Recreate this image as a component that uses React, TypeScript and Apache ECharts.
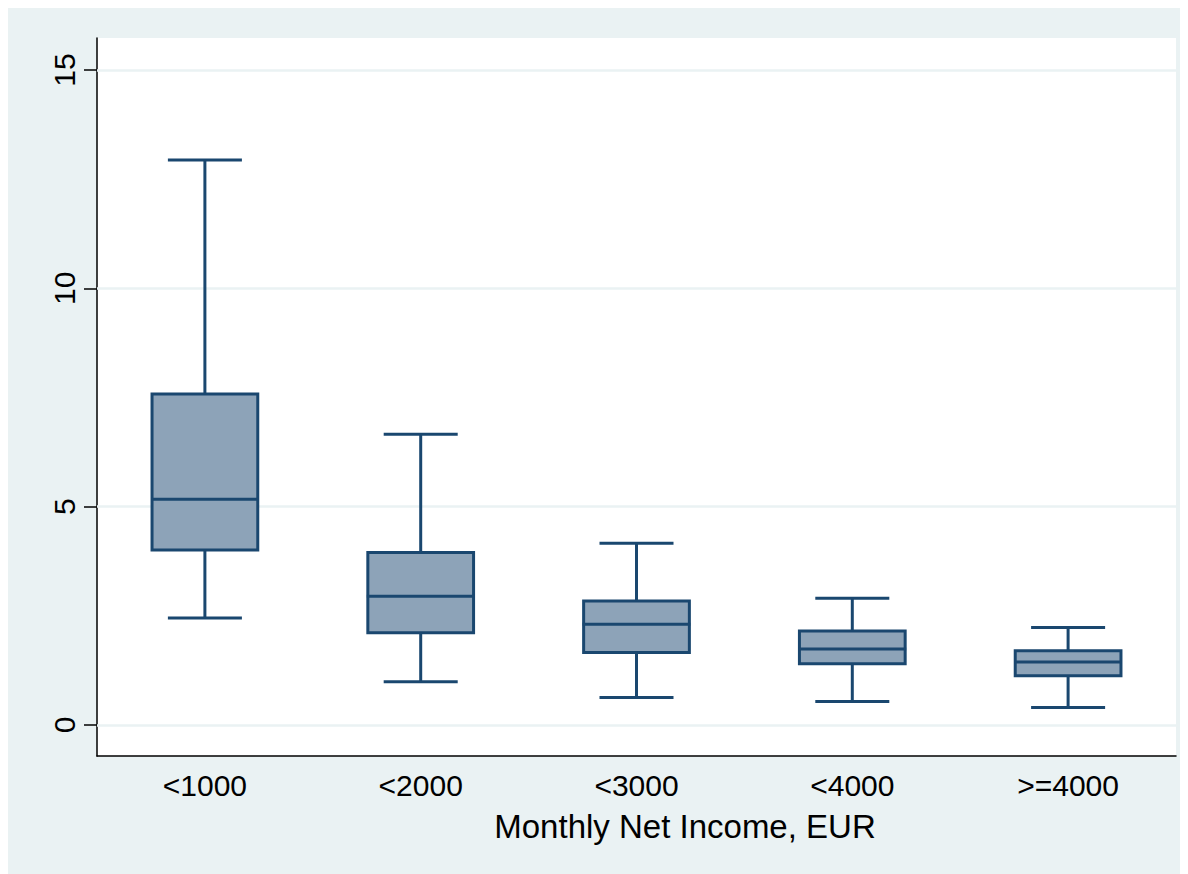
import React, { useEffect, useRef } from "react";
import * as echarts from "echarts";

const categories = ["<1000", "<2000", "<3000", "<4000", ">=4000"];
const lowerWhisker = [2.45, 0.99, 0.63, 0.54, 0.4];
const q1 = [4.01, 2.11, 1.66, 1.4, 1.13];
const median = [5.17, 2.95, 2.31, 1.74, 1.44];
const q3 = [7.58, 3.95, 2.84, 2.15, 1.7];
const upperWhisker = [12.94, 6.66, 4.16, 2.9, 2.23];
const yTicks = [0, 5, 10, 15];
const xTitle = "Monthly Net Income, EUR";

const FONT = "'Liberation Sans', Arial, Helvetica, sans-serif";
const NAVY = "#1A476F";
const FILL = "#8DA3B8";
const BG = "#EAF2F3";

export default function App() {
  const ref = useRef<HTMLDivElement>(null);
  useEffect(() => {
    document.documentElement.style.overflow = "hidden";
    document.body.style.overflow = "hidden";
    const chart = echarts.init(ref.current!, undefined, { renderer: "svg" });
    const data = categories.map((_, i) => [i, lowerWhisker[i], q1[i], median[i], q3[i], upperWhisker[i]]);
    chart.setOption({
      animation: false,
      backgroundColor: BG,
      grid: {
        left: 89,
        right: 32,
        top: 30,
        bottom: 132,
        show: true,
        backgroundColor: "#ffffff",
        borderWidth: 0,
      },
      xAxis: {
        type: "category",
        data: categories,
        boundaryGap: true,
        axisLine: { show: true, onZero: false, lineStyle: { color: "#000", width: 1.5 } },
        axisTick: { show: false },
        axisLabel: { fontSize: 30, color: "#000", fontFamily: FONT, margin: 14 },
        splitLine: { show: false },
      },
      yAxis: {
        type: "value",
        min: -0.71,
        max: 15.733,
        axisLine: { show: true, onZero: false, lineStyle: { color: "#000", width: 1.5 } },
        axisTick: { show: true, length: 13, customValues: yTicks, lineStyle: { color: "#000", width: 1.5 } },
        axisLabel: {
          show: true,
          customValues: yTicks,
          rotate: 90,
          fontSize: 30,
          color: "#000",
          fontFamily: FONT,
          margin: 18,
        },
        splitLine: { show: false },
      },
      graphic: [
        {
          type: "text",
          x: 677,
          y: 818.6,
          style: {
            text: xTitle,
            fontSize: 33,
            fontFamily: FONT,
            fill: "#000",
            textAlign: "center",
            textVerticalAlign: "middle",
            verticalAlign: "middle",
          },
        },
      ],
      series: [
        {
          type: "custom",
          data,
          z: 3,
          encode: { x: 0, y: [1, 2, 3, 4, 5] },
          renderItem: (params: any, api: any) => {
            const i = api.value(0);
            const pLo = api.coord([i, api.value(1)]);
            const pQ1 = api.coord([i, api.value(2)]);
            const pMed = api.coord([i, api.value(3)]);
            const pQ3 = api.coord([i, api.value(4)]);
            const pHi = api.coord([i, api.value(5)]);
            const band = api.size([1, 0])[0];
            const bw = band * 0.49;
            const cw = band * 0.343;
            const x = pLo[0];
            const ls = { stroke: NAVY, lineWidth: 3, fill: null };
            return {
              type: "group",
              children: [
                { type: "line", shape: { x1: x, y1: pQ3[1], x2: x, y2: pHi[1] }, style: ls },
                { type: "line", shape: { x1: x, y1: pQ1[1], x2: x, y2: pLo[1] }, style: ls },
                { type: "line", shape: { x1: x - cw / 2, y1: pHi[1], x2: x + cw / 2, y2: pHi[1] }, style: ls },
                { type: "line", shape: { x1: x - cw / 2, y1: pLo[1], x2: x + cw / 2, y2: pLo[1] }, style: ls },
                {
                  type: "rect",
                  shape: { x: x - bw / 2, y: pQ3[1], width: bw, height: pQ1[1] - pQ3[1] },
                  style: { fill: FILL, stroke: NAVY, lineWidth: 3 },
                },
                { type: "line", shape: { x1: x - bw / 2 - 1, y1: pMed[1], x2: x + bw / 2 + 1, y2: pMed[1] }, style: ls },
              ],
            };
          },
          markLine: {
            silent: true,
            z: 1,
            symbol: ["none", "none"],
            label: { show: false },
            lineStyle: { color: BG, width: 2.5, type: "solid" },
            data: yTicks.map((v) => ({ yAxis: v })),
          },
        },
      ],
    });
    return () => chart.dispose();
  }, []);
  return <div ref={ref} style={{ width: 1200, height: 880 }} />;
}
